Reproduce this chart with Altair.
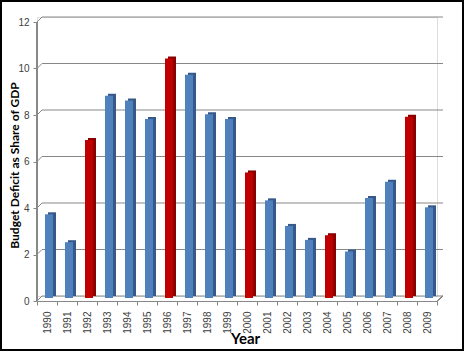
import altair as alt
import pandas as pd

years = [str(y) for y in range(1990, 2010)]
deficits = [3.6, 2.4, 6.8, 8.7, 8.5, 7.7, 10.3, 9.6, 7.9, 7.7,
            5.4, 4.2, 3.1, 2.5, 2.7, 2.0, 4.3, 5.0, 7.8, 3.9]
election_years = ["1992", "1996", "2000", "2004", "2008"]
grid_values = [0, 2, 4, 6, 8, 10, 12]

df = pd.DataFrame({
    "Year": years,
    "Deficit": deficits,
    "kind": ["election" if y in election_years else "other" for y in years],
})
grid_df = pd.DataFrame({"v": grid_values})

W, H = 400, 279
FONT = "Liberation Sans"
TFONT = "Lato"

yscale = alt.Scale(domain=[0, 12], nice=False)
xscale = alt.Scale(domain=years, paddingInner=0, paddingOuter=0)

# back-wall gridlines
grid = alt.Chart(grid_df).mark_rule(color="#878787", strokeWidth=1.2).encode(
    y=alt.Y("v:Q", scale=yscale,
            axis=alt.Axis(title="Budget Deficit as Share of GDP", values=grid_values,
                          grid=False, domain=False, tickOffset=5, tickSize=4,
                          tickColor="#878787", labelFont=FONT, labelFontSize=10,
                          labelColor="#404040", labelPadding=4,
                          titleFont=TFONT, titleFontSize=12, titleFontWeight="bold",
                          titleColor="#000000", titleX=-16, titleY=148)),
    x=alt.value(5),
    x2=alt.value(W + 6),
)

# diagonal connectors from front axis to back wall
diag = alt.Chart(grid_df).mark_rule(color="#878787", strokeWidth=1).transform_calculate(
    vf="datum.v - 5/23.25"
).encode(
    y=alt.Y("v:Q", scale=yscale),
    y2="vf:Q",
    x=alt.value(5),
    x2=alt.value(0),
)

# front axis line
front_axis = alt.Chart(grid_df).mark_rule(color="#878787", strokeWidth=1).encode(
    x=alt.value(0), y=alt.value(5), y2=alt.value(H + 5)
)
# right floor diagonal
right_diag = alt.Chart(grid_df).mark_rule(color="#878787", strokeWidth=1).encode(
    x=alt.value(W), x2=alt.value(W + 6), y=alt.value(H + 5), y2=alt.value(H)
)

xaxis = alt.Axis(title="Year", labelAngle=-90, labelFont=FONT, labelFontSize=10,
                 labelColor="#404040", labelPadding=6, offset=5, domainColor="#878787",
                 tickColor="#878787", tickSize=4, tickBand="extent",
                 titleFont=TFONT, titleFontSize=15, titleFontWeight="bold",
                 titleColor="#000000", titleX=208, titleY=30)

side = alt.Chart(df).mark_bar(width=8, xOffset=5).encode(
    x=alt.X("Year:N", scale=xscale, axis=xaxis, sort=years),
    y=alt.Y("Deficit:Q", scale=yscale),
    color=alt.Color("kind:N", scale=alt.Scale(domain=["other", "election"],
                                              range=["#36598a", "#8a0000"]), legend=None),
)

front = alt.Chart(df).mark_bar(width=8, xOffset=2, yOffset=2).encode(
    x=alt.X("Year:N", scale=xscale, sort=years),
    y=alt.Y("Deficit:Q", scale=yscale),
    color=alt.Color("kind:N", scale=alt.Scale(domain=["other", "election"],
                                              range=["#4f81bd", "#c00000"]), legend=None),
)

border = alt.Chart(grid_df).mark_rect(filled=False, stroke="#000000", strokeWidth=2).encode(
    x=alt.value(-36), x2=alt.value(426), y=alt.value(-16), y2=alt.value(333)
)

chart = alt.layer(grid, diag, front_axis, right_diag, side, front, border).resolve_scale(
    color="independent"
).properties(
    width=W, height=H,
    autosize=alt.AutoSizeParams(type="none"),
    padding={"left": 37, "top": 17, "right": 28, "bottom": 56},
).configure_view(stroke=None).configure(background="white")

chart.save("out.html", embed_options={"renderer": "svg", "actions": False})
